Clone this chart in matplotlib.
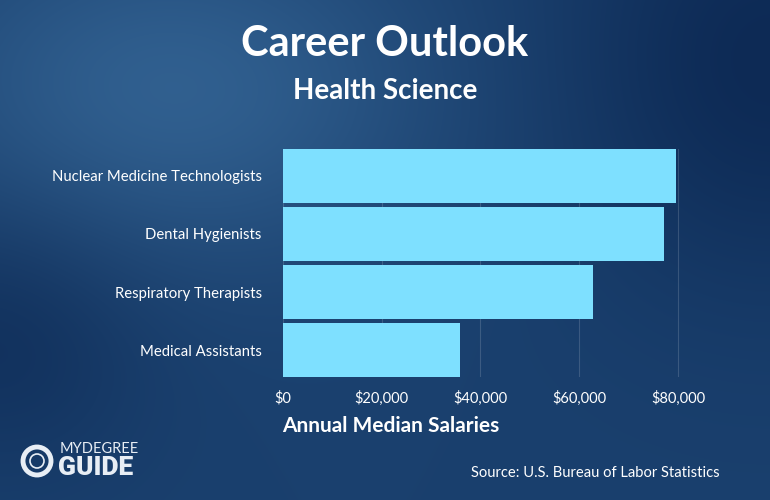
import numpy as np
import matplotlib
matplotlib.use("Agg")
import matplotlib.pyplot as plt
from matplotlib.patches import Circle

# data
careers = ["Nuclear Medicine Technologists", "Dental Hygienists",
           "Respiratory Therapists", "Medical Assistants"]
salaries = [79590, 77090, 62810, 35850]
tick_values = [0, 20000, 40000, 60000, 80000]
tick_labels = ["$0", "$20,000", "$40,000", "$60,000", "$80,000"]

W, H = 770, 500
fig = plt.figure(figsize=(W / 100, H / 100), dpi=100)

# background gradient: lighter patch top-left, darker to the right
bg = fig.add_axes([0, 0, 1, 1])
yy, xx = np.mgrid[0:H, 0:W]
base = np.array([0x1a, 0x40, 0x6e]) / 255.0
light = np.array([0x33, 0x63, 0x93]) / 255.0
dark = np.array([0x0d, 0x2a, 0x55]) / 255.0
g_light = np.exp(-(((xx - 170) / 260.0) ** 2 + ((yy - 90) / 170.0) ** 2))
g_dark = np.exp(-(((xx - 770) / 220.0) ** 2 + ((yy - 60) / 230.0) ** 2))
g_dark2 = np.exp(-(((xx - 0) / 150.0) ** 2 + ((yy - 330) / 140.0) ** 2)) * 0.7
img = base[None, None, :] * np.ones((H, W, 1))
img = img + (light - base) * g_light[..., None] * 0.9
img = img + (dark - base) * np.clip(g_dark + g_dark2, 0, 1)[..., None]
bg.imshow(np.clip(img, 0, 1), aspect="auto", extent=[0, W, H, 0])
bg.set_xlim(0, W)
bg.set_ylim(H, 0)
bg.axis("off")

# chart
left, right = 282.7, 698.0
top, bottom = 149.0, 377.0
ax = fig.add_axes([left / W, 1 - bottom / H, (right - left) / W, (bottom - top) / H])
ax.patch.set_alpha(0)
ypos = np.arange(len(careers))
ax.barh(ypos, salaries, height=0.93, color="#7ee0ff", zorder=3)
ax.set_xlim(0, 84000)
ax.set_ylim(len(careers) - 0.535, -0.465)
ax.set_xticks(tick_values)
ax.set_xticklabels(tick_labels)
ax.set_yticks(ypos)
ax.set_yticklabels(careers)
ax.grid(axis="x", color="white", alpha=0.15, linewidth=0.8, zorder=0)
for s in ax.spines.values():
    s.set_visible(False)
ax.tick_params(axis="both", length=0, colors="white")
ax.tick_params(axis="x", pad=10, labelsize=10.5)
ax.tick_params(axis="y", pad=15, labelsize=10.7)
for t in ax.get_xticklabels() + ax.get_yticklabels():
    t.set_fontfamily("Lato")

# titles and labels
fig.text(385 / W, 1 - 44 / H, "Career Outlook", ha="center", va="center",
         color="white", fontsize=30, fontweight="bold", fontfamily="Lato")
fig.text(385 / W, 1 - 91 / H, "Health Science", ha="center", va="center",
         color="white", fontsize=20, fontweight="bold", fontfamily="Lato")
fig.text(391 / W, 1 - 426 / H, "Annual Median Salaries",
         ha="center", va="center", color="white", fontsize=15,
         fontweight="bold", fontfamily="Lato")
fig.text(720 / W, 1 - 473 / H, "Source: U.S. Bureau of Labor Statistics",
         ha="right", va="center", color="white", fontsize=10.6, fontfamily="Lato")

# logo
bg.add_patch(Circle((37, 461), 14, fill=False, edgecolor="#e8eef5", linewidth=3.5))
bg.add_patch(Circle((37, 461), 7, fill=False, edgecolor="#e8eef5", linewidth=1.2))
bg.text(60, 449, "MYDEGREE", color="#e8eef5", fontsize=10.5, va="center",
        fontfamily="Lato")
bg.text(58, 468, "GUIDE", color="#e8eef5", fontsize=19, fontweight="black",
        va="center", fontfamily="Roboto")

fig.savefig("out.png", dpi=100)
